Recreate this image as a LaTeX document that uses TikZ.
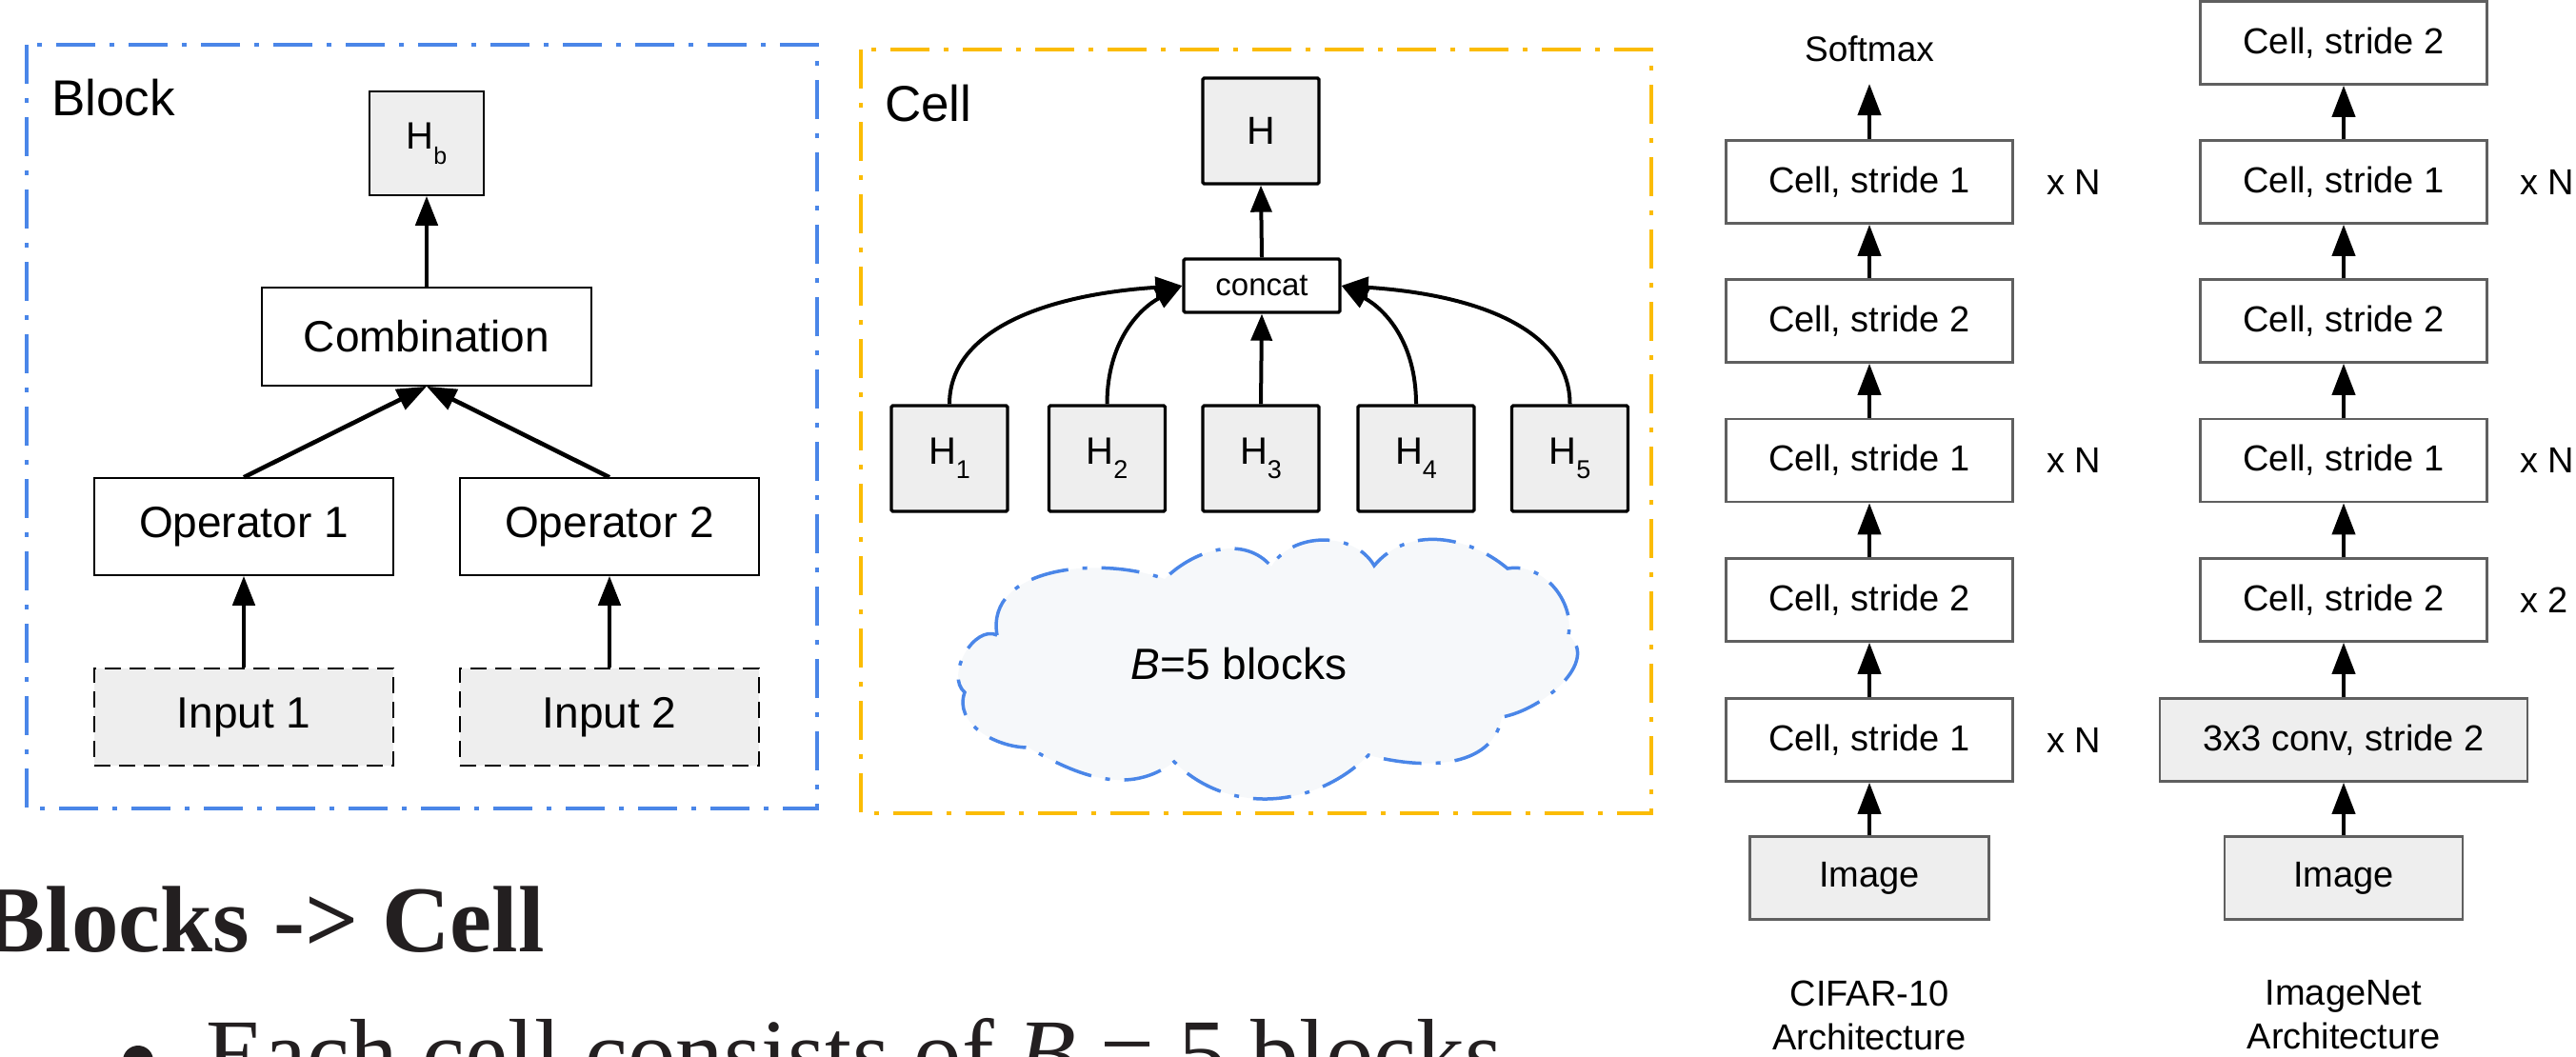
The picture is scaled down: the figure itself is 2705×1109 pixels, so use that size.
\documentclass[tikz,border=0pt]{standalone}
\usepackage{fontspec}
\setmainfont{Liberation Sans}
\newfontfamily\slidefont{Liberation Serif}
\usetikzlibrary{arrows.meta}
\definecolor{gblue}{HTML}{4A86E8}
\definecolor{gyellow}{HTML}{FBBC04}
\definecolor{boxgray}{HTML}{EEEEEE}
\definecolor{cloudfill}{HTML}{F6F8FA}
\definecolor{archline}{HTML}{5F5F5F}
\definecolor{slidetext}{HTML}{231F20}
\newcommand\fs[1]{\fontsize{#1}{#1}\selectfont}
\newcommand\fslab{\fontsize{38}{46}\selectfont}
\newcommand\Hsub[3]{H\raisebox{-#2pt}{\fs{#3}#1}}
\begin{document}
\begin{tikzpicture}[x=1pt,y=1pt,
  frameline/.style={line width=3.5pt, dash pattern=on 41pt off 15pt on 5pt off 15pt},
  blk/.style={draw, line width=1.6pt, inner sep=0pt, minimum width=314pt, minimum height=102pt, font=\fs{46}},
  inbox/.style={blk, fill=boxgray, dash pattern=on 17pt off 9pt},
  hbox/.style={draw, line width=3.3pt, rounded corners=1.5pt, fill=boxgray, inner sep=0pt, minimum width=122pt, minimum height=111pt, font=\fs{40}},
  arrA/.style={line width=4.6pt, -{Triangle[length=31pt,width=23pt]}},
  arrC/.style={line width=4pt, -{Triangle[length=28pt,width=22pt]}},
  arch/.style={draw=archline, line width=2.6pt, inner sep=0pt, minimum width=301pt, minimum height=87pt, font=\fs{38}},
  archimg/.style={arch, fill=boxgray},
  lbl/.style={inner sep=0pt, font=\fs{38}},
  arrR/.style={line width=4pt, -{Triangle[length=33pt,width=24pt]}},
  cloudline/.style={draw=gblue, fill=cloudfill, line width=3.5pt, dash pattern=on 40pt off 15pt on 5pt off 15pt}
]
\useasboundingbox (0,0) rectangle (2705,-1109);
\clip (0,0) rectangle (2705,-1109);

% ---------------- Block panel ----------------
\draw[frameline, draw=gblue] (28,-47) rectangle (858,-849);
\node[anchor=base west, inner sep=0pt, font=\fs{53}] (blocktitle) at (54,-121) {Block};
\node[blk, fill=boxgray, minimum width=120pt, minimum height=109pt, font=\fs{40}] (Hb) at (448,-150.5) {\Hsub{b}{16}{25}};
\node[blk, minimum width=346pt, minimum height=103pt] (comb) at (448,-353.5) {Combination};
\node[blk] (op1) at (256,-553) {Operator 1};
\node[blk] (op2) at (640,-553) {Operator 2};
\node[inbox] (in1) at (256,-753) {Input 1};
\node[inbox] (in2) at (640,-753) {Input 2};
\draw[arrA] (comb.north) -- (Hb.south);
\draw[arrA] (op1.north) -- (comb.south);
\draw[arrA] (op2.north) -- (comb.south);
\draw[arrA] (in1.north) -- (op1.south);
\draw[arrA] (in2.north) -- (op2.south);

% ---------------- Cell panel ----------------
\draw[frameline, draw=gyellow] (904,-52) rectangle (1734,-854);
\node[anchor=base west, inner sep=0pt, font=\fs{53}] (celltitle) at (929,-127) {Cell};
\node[hbox, font=\fs{41}] (H) at (1324,-137.5) {H};
\node[hbox, fill=white, minimum width=164pt, minimum height=56pt, font=\fs{33}] (concat) at (1325,-300) {concat};
\node[hbox] (H1) at (997,-481.5) {\Hsub{1}{15}{27}};
\node[hbox] (H2) at (1162.5,-481.5) {\Hsub{2}{15}{27}};
\node[hbox] (H3) at (1324,-481.5) {\Hsub{3}{15}{27}};
\node[hbox] (H4) at (1487,-481.5) {\Hsub{4}{15}{27}};
\node[hbox] (H5) at (1648.5,-481.5) {\Hsub{5}{15}{27}};
\draw[arrC] (concat.north) -- (H.south);
\draw[arrC] (H3.north) -- (concat.south);
\draw[arrC] (H1.north) .. controls (997,-350) and (1090,-310) .. (concat.west);
\draw[arrC] (H2.north) .. controls (1162.5,-360) and (1195,-325) .. (concat.west);
\draw[arrC] (H4.north) .. controls (1487,-360) and (1455,-325) .. (concat.east);
\draw[arrC] (H5.north) .. controls (1648.5,-350) and (1560,-310) .. (concat.east);
% cloud
\draw[cloudline] (1047,-667) to[out=100,in=160] (1223,-608)
  to[out=45,in=130] (1335,-595)
  to[out=60,in=120] (1443,-594)
  to[out=50,in=140] (1583,-597)
  to[out=10,in=80] (1647,-667)
  to[out=-40,in=10] (1577,-753)
  to[out=-100,in=-15] (1437,-793)
  to[out=-135,in=-45] (1233,-800)
  to[out=-143,in=-30] (1080,-785)
  to[out=180,in=-110] (1013,-727)
  to[out=140,in=155] (1047,-667) -- cycle;
\node[inner sep=0pt, font=\fs{46}] (btext) at (1301,-697) {\textit{B}=5 blocks};

% ---------------- Architectures ----------------
\node[lbl, font=\fs{37}] (softmax) at (1963,-51) {Softmax};
\coordinate (smx) at (1963,-88);
\node[arch] (c1) at (1963,-191) {Cell, stride 1};
\node[arch] (c2) at (1963,-337) {Cell, stride 2};
\node[arch] (c3) at (1963,-483.5) {Cell, stride 1};
\node[arch] (c4) at (1963,-630) {Cell, stride 2};
\node[arch] (c5) at (1963,-777) {Cell, stride 1};
\node[archimg, minimum width=251pt] (cimg) at (1963,-922) {Image};
\draw[arrR] (c1.north) -- (smx);
\draw[arrR] (c2.north) -- (c1.south);
\draw[arrR] (c3.north) -- (c2.south);
\draw[arrR] (c4.north) -- (c3.south);
\draw[arrR] (c5.north) -- (c4.south);
\draw[arrR] (cimg.north) -- (c5.south);
\node[lbl, anchor=west] (cx1) at (2149,-191) {x N};
\node[lbl, anchor=west] (cx3) at (2149,-483.5) {x N};
\node[lbl, anchor=west] (cx5) at (2149,-777) {x N};
\node[lbl, align=center, font=\fslab] (clab) at (1963,-1066) {CIFAR-10\\Architecture};

\node[arch] (i0) at (2461,-45) {Cell, stride 2};
\coordinate (itop) at (2461,20);
\node[arch] (i1) at (2461,-191) {Cell, stride 1};
\node[arch] (i2) at (2461,-337) {Cell, stride 2};
\node[arch] (i3) at (2461,-483.5) {Cell, stride 1};
\node[arch] (i4) at (2461,-630) {Cell, stride 2};
\node[archimg, minimum width=386pt] (iconv) at (2461,-777) {3x3 conv, stride 2};
\node[archimg, minimum width=250pt] (iimg) at (2461,-922) {Image};
\draw[line width=4pt] (i0.north) -- (itop);
\draw[arrR] (i1.north) -- (i0.south);
\draw[arrR] (i2.north) -- (i1.south);
\draw[arrR] (i3.north) -- (i2.south);
\draw[arrR] (i4.north) -- (i3.south);
\draw[arrR] (iconv.north) -- (i4.south);
\draw[arrR] (iimg.north) -- (iconv.south);
\node[lbl, anchor=west] (ix1) at (2646,-191) {x N};
\node[lbl, anchor=west] (ix3) at (2646,-483.5) {x N};
\node[lbl, anchor=west] (ix4) at (2646,-630) {x 2};
\node[lbl, align=center, font=\fslab] (ilab) at (2461,-1066) {ImageNet\\Architecture};

% ---------------- Slide text ----------------
\node[anchor=base east, inner sep=0pt, text=slidetext, font=\slidefont\bfseries\fs{99}] (heading) at (572,-999) {Blocks -> Cell};
\node[anchor=base west, inner sep=0pt, text=slidetext, font=\slidefont\fs{101}] (bullet) at (216,-1140) {Each cell consists of \textit{B} = 5 blocks};
\fill[slidetext] (145,-1114) circle (16pt);
\end{tikzpicture}
\end{document}
